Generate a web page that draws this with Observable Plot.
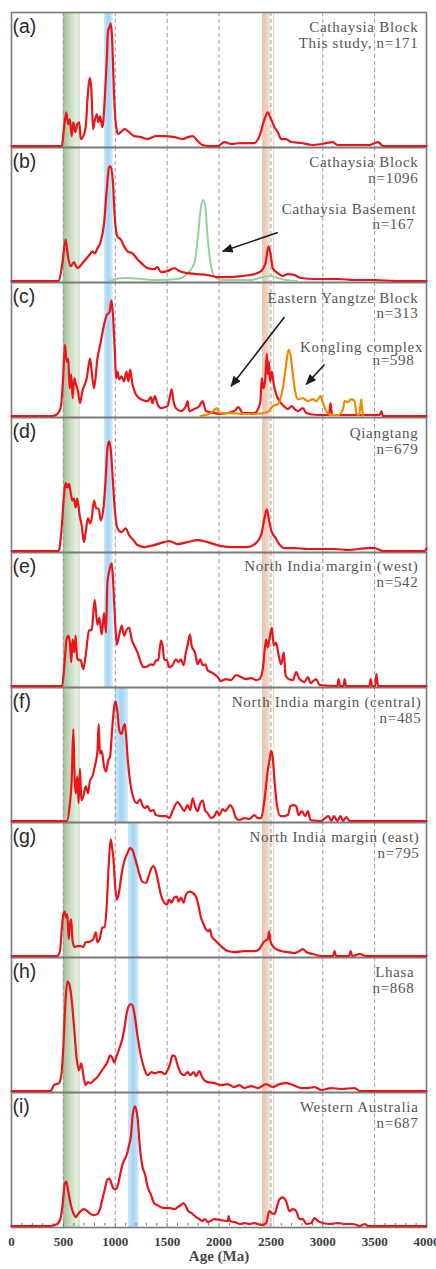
<!DOCTYPE html>
<html>
<head>
<meta charset="utf-8">
<script src="https://cdn.jsdelivr.net/npm/d3@7"></script>
<script src="https://cdn.jsdelivr.net/npm/@observablehq/plot@0.6"></script>
<style>
  html, body { margin: 0; padding: 0; background: #fff; }
  svg { display: block; }
</style>
</head>
<body>
<div id="chart"></div>
<script>
// Detrital zircon U-Pb age spectra (relative probability, arbitrary units) for nine source regions.
const panels = ["a", "b", "c", "d", "e", "f", "g", "h", "i"];

// Red curves, one per panel: [age (Ma), relative probability]
const cathaysiaThisStudy = [[0,0],[485,0],[505,17],[528,34],[547,22],[563,27],[580,10],[596,24],[615,14],[634,22],[654,24],[667,7],[692,10],[715,19],[737,54],[754,69],[770,57],[786,17],[805,27],[824,32],[837,24],[853,30],[876,19],[899,47],[918,87],[931,117],[944,120],[957,124],[969,110],[989,50],[1008,20],[1027,12],[1053,14],[1092,17],[1134,14],[1182,10],[1246,9],[1311,7],[1391,10],[1472,10],[1568,9],[1649,7],[1700,9],[1746,10],[1794,5],[1840,1],[1900,0],[1990,0],[2052,4],[2116,2],[2213,3],[2341,3],[2390,10],[2438,27],[2470,34],[2502,27],[2535,19],[2567,14],[2599,7],[2647,7],[2696,4],[2792,3],[2900,1],[2990,2],[3098,4],[3140,1],[3450,1],[3533,4],[3580,0],[4000,0]];
const cathaysiaBlock = [[0,0],[455,0],[490,18],[522,42],[544,25],[570,15],[602,19],[634,13],[683,18],[725,23],[757,27],[779,30],[802,28],[828,33],[860,40],[892,58],[918,92],[940,115],[956,116],[976,102],[995,65],[1021,45],[1053,42],[1085,35],[1118,30],[1166,28],[1214,22],[1262,17],[1311,13],[1375,12],[1407,14],[1440,9],[1504,10],[1568,13],[1617,10],[1697,8],[1794,7],[1890,6],[1987,4],[2084,4],[2213,5],[2341,7],[2406,10],[2448,18],[2477,35],[2496,28],[2518,13],[2567,8],[2615,5],[2663,7],[2728,6],[2792,3],[2921,2],[3050,2],[3150,2],[3300,1],[3500,1],[3700,0],[4000,0]];
const easternYangtze = [[0,0],[390,0],[441,2],[473,8],[496,35],[515,72],[531,55],[547,58],[560,28],[576,42],[589,18],[605,38],[621,32],[641,25],[660,13],[683,25],[725,38],[757,58],[773,45],[795,28],[828,58],[860,75],[892,92],[918,102],[944,105],[963,117],[976,105],[995,68],[1008,38],[1021,45],[1037,37],[1060,40],[1085,35],[1108,45],[1127,35],[1143,47],[1166,32],[1198,22],[1246,17],[1311,15],[1343,19],[1359,13],[1382,20],[1407,12],[1440,8],[1504,10],[1527,20],[1543,27],[1562,15],[1585,8],[1633,5],[1681,10],[1697,15],[1713,5],[1762,7],[1810,10],[1842,15],[1874,5],[1955,3],[2019,2],[2148,5],[2187,9],[2229,3],[2341,3],[2380,8],[2399,15],[2412,38],[2428,28],[2444,35],[2461,63],[2470,42],[2480,55],[2493,35],[2509,45],[2528,32],[2551,22],[2583,15],[2625,10],[2663,7],[2702,10],[2728,7],[2760,5],[2808,8],[2841,3],[2950,1],[3060,1],[3075,13],[3090,1],[3300,1],[3550,1],[3565,5],[3580,0],[4000,0]];
const qiangtang = [[0,0],[455,0],[483,23],[506,56],[522,69],[538,64],[554,68],[570,59],[586,51],[602,53],[618,44],[634,53],[657,36],[676,26],[699,9],[715,19],[737,33],[757,28],[773,33],[795,51],[818,43],[840,43],[860,31],[886,43],[908,73],[924,103],[940,111],[956,103],[976,73],[995,43],[1021,23],[1060,19],[1101,23],[1134,16],[1176,11],[1214,6],[1279,4],[1375,6],[1472,9],[1520,10],[1601,7],[1697,9],[1794,11],[1890,9],[2019,5],[2148,4],[2277,4],[2357,8],[2406,16],[2438,33],[2461,42],[2486,29],[2509,19],[2541,14],[2573,8],[2631,3],[2728,3],[2850,2],[3114,2],[3250,1],[3436,3],[3500,3],[3581,0],[3980,0],[4000,3]];
const indiaWest = [[0,0],[488,0],[512,24],[531,47],[547,51],[563,44],[576,24],[589,47],[605,34],[618,51],[634,27],[667,26],[692,17],[715,31],[747,56],[773,57],[802,87],[828,62],[847,69],[870,52],[892,74],[911,54],[924,104],[944,117],[966,124],[982,101],[998,67],[1015,42],[1037,51],[1063,61],[1085,51],[1111,57],[1134,59],[1159,47],[1182,41],[1214,34],[1246,24],[1272,19],[1311,20],[1343,22],[1369,21],[1391,26],[1414,26],[1440,46],[1456,41],[1472,27],[1498,26],[1520,19],[1552,21],[1585,27],[1610,24],[1633,27],[1659,21],[1681,34],[1697,41],[1720,52],[1736,41],[1752,37],[1768,34],[1794,22],[1820,27],[1842,21],[1868,22],[1890,16],[1923,14],[1955,12],[1987,9],[2019,5],[2068,7],[2116,6],[2164,11],[2213,9],[2261,7],[2309,8],[2357,6],[2390,7],[2422,17],[2454,47],[2470,39],[2489,49],[2509,59],[2528,41],[2551,44],[2573,32],[2599,22],[2625,34],[2641,11],[2670,7],[2712,6],[2744,14],[2776,7],[2824,4],[2857,9],[2882,3],[2937,7],[2969,1],[3140,0],[3153,7],[3166,0],[3200,0],[3211,7],[3225,0],[3450,0],[3462,7],[3475,0],[3505,0],[3517,12],[3533,0],[4000,0]];
const indiaCentral = [[0,0],[535,0],[560,15],[580,41],[596,93],[609,41],[621,28],[634,45],[647,18],[660,53],[673,21],[692,25],[715,35],[737,28],[757,41],[779,45],[805,56],[828,70],[840,98],[853,68],[870,71],[892,55],[911,50],[931,61],[950,65],[969,91],[989,115],[1002,121],[1021,110],[1040,91],[1060,88],[1079,95],[1092,98],[1105,85],[1124,58],[1150,35],[1176,23],[1208,18],[1240,22],[1262,16],[1285,13],[1311,15],[1337,10],[1369,11],[1391,6],[1440,5],[1488,5],[1520,3],[1552,10],[1601,19],[1633,15],[1665,10],[1697,16],[1723,11],[1746,23],[1768,15],[1794,10],[1820,18],[1842,21],[1865,11],[1890,8],[1923,3],[1955,5],[1981,10],[2003,6],[2035,12],[2058,10],[2084,13],[2109,16],[2132,13],[2164,3],[2196,1],[2245,3],[2293,2],[2341,6],[2374,3],[2406,3],[2438,21],[2470,51],[2489,63],[2502,71],[2518,64],[2535,41],[2560,15],[2593,5],[2631,5],[2663,6],[2689,15],[2715,16],[2744,15],[2766,6],[2799,10],[2831,5],[2857,10],[2882,1],[2985,0],[3024,3],[3056,5],[3082,0],[3108,5],[3140,0],[3172,5],[3195,0],[3227,4],[3259,0],[4000,0]];
const indiaEast = [[0,0],[440,0],[467,5],[483,25],[499,42],[512,45],[525,39],[538,42],[551,17],[563,32],[576,37],[589,15],[609,9],[634,10],[667,10],[692,9],[715,14],[737,14],[763,15],[789,17],[812,24],[828,14],[850,17],[876,29],[899,29],[918,52],[937,92],[956,118],[969,110],[982,99],[998,72],[1015,57],[1037,65],[1060,82],[1085,95],[1118,104],[1143,109],[1166,107],[1188,100],[1214,90],[1240,80],[1262,75],[1295,74],[1320,80],[1349,89],[1369,91],[1388,87],[1414,75],[1440,62],[1472,54],[1498,52],[1520,57],[1543,54],[1568,59],[1594,60],[1610,55],[1633,59],[1659,54],[1681,62],[1713,65],[1746,64],[1778,60],[1800,52],[1826,39],[1852,32],[1874,27],[1897,25],[1913,27],[1929,20],[1971,15],[2019,10],[2084,5],[2148,4],[2245,5],[2341,5],[2390,7],[2406,10],[2438,15],[2470,17],[2483,25],[2496,15],[2518,10],[2551,7],[2599,5],[2663,4],[2728,3],[2776,5],[2808,7],[2841,4],[2905,2],[2985,0],[3100,0],[3114,5],[3128,0],[3255,0],[3269,5],[3283,0],[3356,2],[3420,0],[4000,0]];
const lhasa = [[0,0],[377,0],[409,6],[457,8],[480,16],[499,43],[518,86],[538,111],[557,108],[576,96],[602,66],[628,33],[650,21],[673,28],[692,16],[715,6],[737,9],[763,8],[795,11],[828,14],[860,19],[892,24],[924,29],[950,36],[969,34],[989,29],[1015,36],[1040,43],[1069,53],[1092,66],[1111,79],[1130,86],[1150,88],[1169,86],[1188,76],[1214,56],[1246,36],[1279,23],[1311,16],[1349,19],[1382,18],[1414,19],[1446,19],[1478,17],[1504,21],[1530,28],[1552,36],[1575,35],[1601,26],[1633,18],[1665,16],[1697,19],[1723,16],[1755,19],[1778,15],[1810,20],[1842,13],[1890,9],[1955,8],[2019,6],[2084,7],[2148,4],[2196,6],[2245,3],[2309,5],[2374,3],[2454,7],[2518,4],[2583,7],[2647,8],[2712,6],[2792,3],[2857,3],[2921,4],[2985,1],[3082,3],[3179,2],[3308,3],[3356,0],[4000,0]];
const westernAustralia = [[0,0],[377,0],[441,2],[473,8],[496,25],[512,42],[528,45],[547,35],[570,22],[596,13],[618,9],[641,12],[667,15],[699,17],[731,15],[763,12],[795,11],[828,12],[853,17],[876,27],[899,37],[924,47],[944,48],[963,43],[982,38],[1005,37],[1027,42],[1053,55],[1079,65],[1111,72],[1134,82],[1150,90],[1169,113],[1192,121],[1214,110],[1240,77],[1262,60],[1285,53],[1311,40],[1343,32],[1375,23],[1407,21],[1440,19],[1472,18],[1504,18],[1536,18],[1568,17],[1601,19],[1633,21],[1659,23],[1681,20],[1704,15],[1736,13],[1768,10],[1810,7],[1842,5],[1865,7],[1890,4],[1955,7],[2019,6],[2084,5],[2093,10],[2103,5],[2148,4],[2213,2],[2245,3],[2293,2],[2341,3],[2406,1],[2454,3],[2486,15],[2509,13],[2535,12],[2560,20],[2583,27],[2615,29],[2647,25],[2680,15],[2712,17],[2744,15],[2776,7],[2808,7],[2841,2],[2889,3],[2921,8],[2953,5],[3002,3],[3066,2],[3146,3],[3211,2],[3291,2],[3356,0],[3404,2],[3436,0],[4000,0]];

// Comparison curves drawn inside panels (b) and (c)
const cathaysiaBasement = [[950,0],[1000,2],[1100,3],[1250,2],[1400,1],[1600,2],[1697,8],[1762,18],[1794,42],[1826,75],[1849,82],[1868,75],[1890,45],[1923,15],[1971,3],[2050,1],[2300,1],[2420,4],[2500,5],[2560,3],[2650,1],[2750,0]];
const konglingComplex = [[1820,0],[1923,3],[1981,8],[2003,3],[2100,3],[2250,2],[2341,2],[2470,4],[2518,10],[2567,12],[2615,28],[2647,52],[2670,67],[2689,62],[2712,42],[2734,25],[2760,17],[2808,18],[2857,15],[2905,17],[2937,15],[2979,20],[3005,12],[3034,5],[3080,1],[3150,1],[3195,7],[3211,15],[3243,14],[3275,17],[3308,15],[3324,3],[3350,1],[3372,17],[3385,0]];

const redSeries = [cathaysiaThisStudy, cathaysiaBlock, easternYangtze, qiangtang, indiaWest, indiaCentral, indiaEast, lhasa, westernAustralia];

// Highlighted age windows (Ma)
const greenBand = [500, 650];
const orangeBand = [2420, 2495];
const blueBandStart = [895, 895, 895, 895, 895, 1000, 1127, 1127, 1127];
const blueBandEnd   = [980, 980, 980, 980, 980, 1127, 1230, 1230, 1230];
const bandEdgeAges = [650, 2527];

// Reference ages and axis ticks (Ma)
const guideAges = [500, 1000, 1500, 2000, 2500, 3000, 3500];
const ageTicks = [0, 500, 1000, 1500, 2000, 2500, 3000, 3500, 4000];
const minorTicks = d3.range(0, 4001, 100);

// Sample labels: panel, text, anchor age, height
const notes = [
  ["a", "Cathaysia Block", 3923, 126], ["a", "This study, n=171", 3923, 110],
  ["b", "Cathaysia Block", 3923, 126], ["b", "n=1096", 3923, 110],
  ["b", "Cathaysia Basement", 3903, 79], ["b", "n=167", 3884, 63],
  ["c", "Eastern Yangtze Block", 3923, 125], ["c", "n=313", 3923, 110],
  ["c", "Kongling complex", 3968, 76], ["c", "n=598", 3884, 62],
  ["d", "Qiangtang", 3923, 125], ["d", "n=679", 3923, 109],
  ["e", "North India margin (west)", 3923, 127], ["e", "n=542", 3923, 111],
  ["f", "North India margin (central)", 3952, 126], ["f", "n=485", 3952, 110],
  ["g", "North India margin (east)", 3933, 126], ["g", "n=795", 3933, 110],
  ["h", "Lhasa", 3884, 126], ["h", "n=868", 3884, 110],
  ["i", "Western Australia", 3923, 126], ["i", "n=687", 3923, 110]
];

// Pointer arrows: panel, from (age, height) to (age, height)
const arrows = [
  ["b", 2567, 49, 2036, 30],
  ["c", 2631, 100, 2116, 30],
  ["c", 3017, 52, 2841, 32]
];

const toRows = (panel, pts) => pts.map(([age, p]) => ({panel, age, p}));
const redRows = panels.flatMap((panel, i) => toRows(panel, redSeries[i]));
const basementRows = toRows("b", cathaysiaBasement);
const konglingRows = toRows("c", konglingComplex);
const blueRows = panels.map((panel, i) => ({panel, x1: blueBandStart[i], x2: blueBandEnd[i]}));
const noteRows = notes.map(([panel, text, x, y]) => ({panel, text, x, y}));
const arrowRows = arrows.map(([panel, x1, y1, x2, y2]) => ({panel, x1, y1, x2, y2}));
const minorRows = minorTicks.map(age => ({panel: "i", age}));

const serif = "'Liberation Serif', 'Times New Roman', serif";
const sans = "'Liberation Sans', Arial, sans-serif";

const chart = Plot.plot({
  width: 436,
  height: 1269,
  marginTop: 11,
  marginRight: 10,
  marginBottom: 41,
  marginLeft: 11,
  style: {background: "#fff", overflow: "visible"},
  x: {domain: [0, 4000]},
  y: {domain: [0, 135], axis: null, insetBottom: 1.5},
  fy: {domain: panels, padding: 0, axis: null},
  marks: [
    Plot.rect([greenBand], {x1: d => d[0], x2: d => d[1], fill: "url(#band-green)"}),
    Plot.rect(blueRows, {fy: "panel", x1: "x1", x2: "x2", fill: "url(#band-blue)"}),
    Plot.rect([orangeBand], {x1: d => d[0], x2: d => d[1], fill: "url(#band-orange)"}),
    Plot.ruleX(bandEdgeAges, {stroke: (d) => d < 1000 ? "#b9d8b0" : "#efd6c6", strokeWidth: 1.2}),
    Plot.ruleX(guideAges, {stroke: "#9a9a9a", strokeWidth: 1, strokeDasharray: "4,3"}),
    Plot.frame({stroke: "#7a7a7a", strokeWidth: 1.6}),
    Plot.line(basementRows, {fy: "panel", x: "age", y: "p", stroke: "#93d1a0", strokeWidth: 2, curve: "monotone-x"}),
    Plot.line(redRows, {fy: "panel", x: "age", y: "p", stroke: "#e8161b", strokeWidth: 2.2, curve: "monotone-x", strokeLinejoin: "round"}),
    Plot.line(konglingRows, {fy: "panel", x: "age", y: "p", stroke: "#f08a00", strokeWidth: 2.2, curve: "monotone-x"}),
    Plot.link(arrowRows, {fy: "panel", x1: "x1", y1: "y1", x2: "x2", y2: "y2", stroke: "#1c1c1c", strokeWidth: 1.6}),
    Plot.text(panels, {fy: d => d, text: d => `(${d})`, frameAnchor: "top-left", textAnchor: "start", lineAnchor: "top", dx: 1, dy: 7, fontSize: 19.5, fontFamily: sans, fill: "#2a2a2a"}),
    Plot.text(noteRows, {fy: "panel", x: "x", y: "y", text: "text", textAnchor: "end", lineAnchor: "top", fontSize: 15, fontFamily: serif, fill: "#555"}),
    Plot.ruleX(minorRows, {fy: "panel", x: "age", y1: 0, y2: 2.5, stroke: "#6a6a6a", strokeWidth: 1}),
    Plot.axisX(ageTicks, {anchor: "bottom", tickSize: 0, tickPadding: 9, tickFormat: d => String(d), fontSize: 13, fontWeight: "bold", fontFamily: serif, color: "#3d3d3d", label: null}),
    Plot.text(["Age (Ma)"], {fy: () => "i", x: () => 2000, text: d => d, frameAnchor: "bottom", lineAnchor: "top", dy: 23, fontSize: 15, fontFamily: serif, fontWeight: "bold", fill: "#4a4a4a"})
  ]
});

// Gradients for the age windows and a filled head for the pointer arrows
const svg = d3.select(chart);
const defs = svg.insert("defs", ":first-child");
function gradient(id, stops) {
  const g = defs.append("linearGradient").attr("id", id)
    .attr("x1", 0).attr("x2", 1).attr("y1", 0).attr("y2", 0);
  stops.forEach(([offset, color, opacity]) =>
    g.append("stop").attr("offset", offset).attr("stop-color", color).attr("stop-opacity", opacity));
}
gradient("band-green", [[0, "#8fb282", 0.85], [0.5, "#b3cfa8", 0.7], [1, "#d9e8d2", 0.55]]);
gradient("band-blue", [[0, "#bfe1f6", 0.8], [0.5, "#9fd2f1", 0.95], [1, "#c4e3f7", 0.8]]);
gradient("band-orange", [[0, "#e6c0a6", 0.9], [0.5, "#ecc9b2", 0.9], [1, "#f3dccd", 0.8]]);
defs.append("marker").attr("id", "pointer-head")
  .attr("viewBox", "0 0 12 10").attr("refX", 11).attr("refY", 5)
  .attr("markerWidth", 12).attr("markerHeight", 9)
  .attr("markerUnits", "userSpaceOnUse").attr("orient", "auto")
  .append("path").attr("d", "M0,0L12,5L0,10Z").attr("fill", "#1c1c1c");
svg.selectAll('g[aria-label="link"] path').attr("marker-end", "url(#pointer-head)");

// Slightly open tracking on the sample labels
const noteTexts = new Set(notes.map(d => d[1]));
svg.selectAll("text")
  .filter(function() { return noteTexts.has(this.textContent); })
  .attr("letter-spacing", "0.7px");

document.getElementById("chart").appendChild(chart);
</script>
</body>
</html>
